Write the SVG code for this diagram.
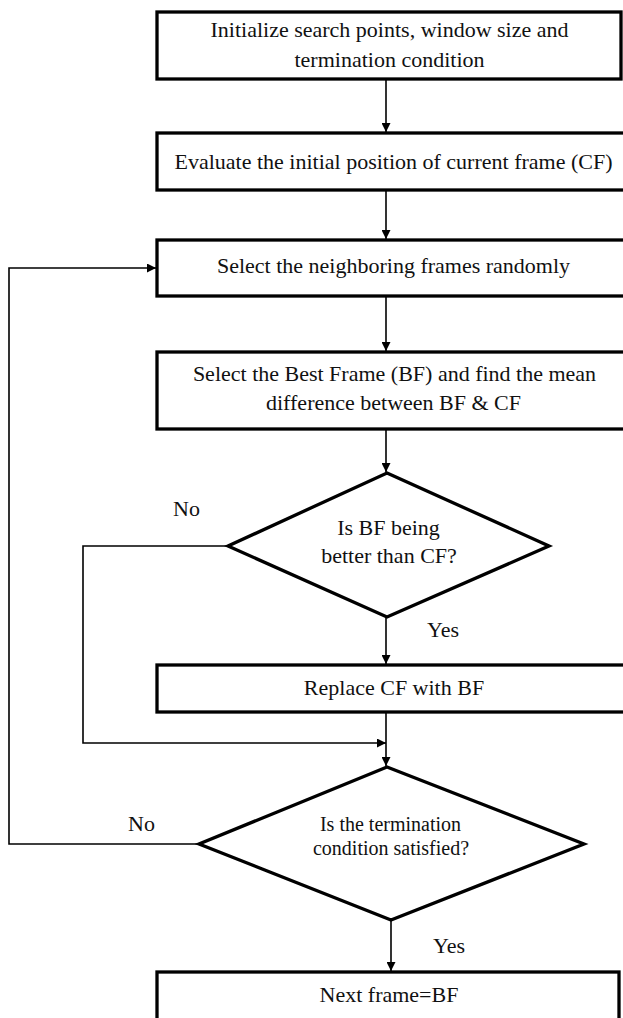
<svg xmlns="http://www.w3.org/2000/svg" width="623" height="1018" viewBox="0 0 623 1018">
<style>
.box{fill:#fff;stroke:#000;stroke-width:3.3}
.dia{fill:#fff;stroke:#000;stroke-width:3.3}
.t{font-family:"Liberation Serif","Times New Roman",serif;font-size:22px;fill:#111;text-anchor:middle}
.t2{font-family:"Liberation Serif","Times New Roman",serif;font-size:20px;fill:#111;text-anchor:middle}
.lbl{font-family:"Liberation Serif","Times New Roman",serif;font-size:22px;fill:#111}
.c{fill:none;stroke:#000;stroke-width:1.6}
</style>
<defs>
<marker id="ah" viewBox="0 0 10 10" refX="10" refY="5" markerWidth="9" markerHeight="9" markerUnits="userSpaceOnUse" orient="auto">
<path d="M0,0 L10,5 L0,10 Z" fill="#000"/>
</marker>
</defs>
<g id="connectors">
<line class="c" x1="386" y1="79" x2="386" y2="132" marker-end="url(#ah)"/>
<line class="c" x1="386" y1="190" x2="386" y2="239" marker-end="url(#ah)"/>
<line class="c" x1="386" y1="296" x2="386" y2="351" marker-end="url(#ah)"/>
<line class="c" x1="386" y1="429" x2="386" y2="472" marker-end="url(#ah)"/>
<line class="c" x1="386" y1="617" x2="386" y2="664" marker-end="url(#ah)"/>
<line class="c" x1="386" y1="712" x2="386" y2="766" marker-end="url(#ah)"/>
<polyline class="c" points="228,546 83,546 83,743 386,743" marker-end="url(#ah)"/>
<polyline class="c" points="199,844 9,844 9,268 156,268" marker-end="url(#ah)"/>
<line class="c" x1="391" y1="920" x2="391" y2="971" marker-end="url(#ah)"/>
<text class="lbl" x="173" y="516">No</text>
<text class="lbl" x="128" y="831">No</text>
<text class="lbl" x="427" y="637">Yes</text>
<text class="lbl" x="433" y="953">Yes</text>
</g>
<g id="n1"><rect class="box" x="157" y="12" width="464" height="67"/>
<text class="t" x="389.5" y="37">Initialize search points, window size and</text>
<text class="t" x="389.5" y="67">termination condition</text></g>
<g id="n2"><rect class="box" x="157" y="133" width="480" height="57"/>
<text class="t" x="393.5" y="169">Evaluate the initial position of current frame (CF)</text></g>
<g id="n3"><rect class="box" x="157" y="240" width="480" height="56"/>
<text class="t" x="393.5" y="273">Select the neighboring frames randomly</text></g>
<g id="n4"><rect class="box" x="157" y="352" width="480" height="77"/>
<text class="t" x="394.5" y="381">Select the Best Frame (BF) and find the mean</text>
<text class="t" x="393.5" y="410">difference between BF &amp; CF</text></g>
<g id="n5"><polygon class="dia" points="387,473 549,546 387,617 228,546"/>
<text class="t" x="388.5" y="535">Is BF being</text>
<text class="t" x="389" y="563">better than CF?</text></g>
<g id="n6"><rect class="box" x="157" y="665" width="480" height="47"/>
<text class="t" x="394" y="695">Replace CF with BF</text></g>
<g id="n7"><polygon class="dia" points="387,767 584,844 391,920 199,844"/>
<text class="t2" x="390.5" y="831">Is the termination</text>
<text class="t2" x="391" y="855">condition satisfied?</text></g>
<g id="n8"><rect class="box" x="157" y="972" width="462" height="60"/>
<text class="t" x="389" y="1002">Next frame=BF</text></g>
</svg>
